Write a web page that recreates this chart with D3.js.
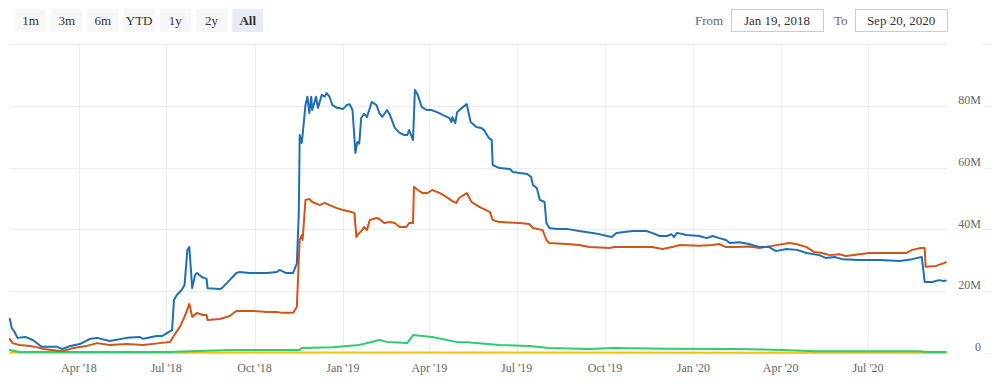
<!DOCTYPE html>
<html>
<head>
<meta charset="utf-8">
<script src="https://cdn.jsdelivr.net/npm/d3@7"></script>
<style>
  html, body { margin: 0; padding: 0; background: #fff; }
  svg { display: block; font-family: "Liberation Serif", "Times New Roman", serif; }
</style>
</head>
<body>
<svg id="chart" width="1000" height="391"></svg>
<script>
// ---------- DATA (values in millions) ----------
const rangeButtons = ["1m", "3m", "6m", "YTD", "1y", "2y", "All"];
const selectedButton = "All";
const fromDate = "Jan 19, 2018";
const toDate = "Sep 20, 2020";

const yTickValues = [0, 20, 40, 60, 80, 100];
const yTickLabels = ["0", "20M", "40M", "60M", "80M", ""];
const xTickDates = ["2018-04-01","2018-07-01","2018-10-01","2019-01-01","2019-04-01","2019-07-01","2019-10-01","2020-01-01","2020-04-01","2020-07-01"];
const xTickLabels = ["Apr '18","Jul '18","Oct '18","Jan '19","Apr '19","Jul '19","Oct '19","Jan '20","Apr '20","Jul '20"];

const blueSeries = [
 ["2018-01-19",11.0],["2018-01-21",8.1],["2018-01-24",6.8],["2018-01-27",4.9],["2018-02-04",5.2],
 ["2018-02-12",4.2],["2018-02-21",2.0],["2018-03-02",2.0],["2018-03-09",2.0],["2018-03-15",1.3],
 ["2018-03-23",2.3],["2018-04-02",2.9],["2018-04-12",4.5],["2018-04-20",4.9],["2018-05-03",3.9],
 ["2018-05-21",4.9],["2018-06-03",5.2],["2018-06-07",4.6],["2018-06-21",5.5],["2018-06-27",5.5],
 ["2018-07-02",6.5],["2018-07-07",7.4],["2018-07-09",17.2],["2018-07-12",18.8],["2018-07-17",20.4],
 ["2018-07-20",22.0],["2018-07-23",33.4],["2018-07-25",34.3],["2018-07-28",21.0],["2018-07-31",25.3],
 ["2018-08-02",25.9],["2018-08-07",24.6],["2018-08-12",24.0],["2018-08-13",21.0],["2018-08-26",20.7],
 ["2018-08-28",21.0],["2018-09-05",23.6],["2018-09-12",25.9],["2018-09-15",26.2],["2018-09-26",25.9],
 ["2018-10-14",25.9],["2018-10-24",26.2],["2018-10-27",26.9],["2018-11-03",25.9],["2018-11-10",25.9],
 ["2018-11-14",29.0],["2018-11-16",45.0],["2018-11-17",70.6],["2018-11-19",68.0],["2018-11-20",70.6],
 ["2018-11-23",80.3],["2018-11-25",83.0],["2018-11-27",77.7],["2018-11-29",83.0],["2018-11-30",78.7],
 ["2018-12-04",83.0],["2018-12-06",79.4],["2018-12-10",83.6],["2018-12-13",83.0],["2018-12-15",84.2],
 ["2018-12-18",83.0],["2018-12-21",80.3],["2018-12-26",79.4],["2019-01-01",79.0],["2019-01-05",80.3],
 ["2019-01-08",80.6],["2019-01-11",78.7],["2019-01-14",64.8],["2019-01-16",68.3],["2019-01-18",67.8],
 ["2019-01-20",76.1],["2019-01-23",77.5],["2019-01-26",76.4],["2019-01-31",81.3],["2019-02-05",80.3],
 ["2019-02-08",77.7],["2019-02-11",76.5],["2019-02-16",78.7],["2019-02-19",77.1],["2019-02-24",72.9],
 ["2019-03-01",71.3],["2019-03-06",70.6],["2019-03-09",70.6],["2019-03-11",72.2],["2019-03-15",69.0],
 ["2019-03-17",85.2],["2019-03-20",83.6],["2019-03-24",79.7],["2019-03-29",78.7],["2019-04-03",78.7],
 ["2019-04-09",78.0],["2019-04-15",77.1],["2019-04-22",76.1],["2019-04-24",74.8],["2019-04-25",76.4],
 ["2019-04-28",74.5],["2019-04-30",78.0],["2019-05-05",79.4],["2019-05-10",80.6],["2019-05-14",74.8],
 ["2019-05-20",73.2],["2019-05-25",72.9],["2019-05-28",72.2],["2019-06-02",69.6],["2019-06-05",69.0],
 ["2019-06-06",60.9],["2019-06-13",59.9],["2019-06-24",59.6],["2019-06-27",58.6],["2019-07-12",58.0],
 ["2019-07-16",57.0],["2019-07-18",54.4],["2019-07-22",53.4],["2019-07-25",49.6],["2019-07-30",48.9],
 ["2019-08-01",42.1],["2019-08-04",40.5],["2019-08-12",40.2],["2019-08-22",40.2],["2019-09-04",39.5],
 ["2019-09-18",38.9],["2019-09-25",38.5],["2019-10-03",37.9],["2019-10-08",37.6],["2019-10-13",38.9],
 ["2019-10-21",39.2],["2019-10-30",39.5],["2019-11-13",39.5],["2019-11-19",38.9],["2019-11-27",37.9],
 ["2019-12-05",37.9],["2019-12-09",38.5],["2019-12-12",37.6],["2019-12-15",38.9],["2019-12-25",38.2],
 ["2020-01-07",37.9],["2020-01-15",37.2],["2020-01-21",37.9],["2020-01-28",37.2],["2020-02-04",36.6],
 ["2020-02-08",35.6],["2020-02-18",35.9],["2020-02-28",35.3],["2020-03-10",34.3],["2020-03-20",34.3],
 ["2020-03-27",33.0],["2020-04-07",33.7],["2020-04-18",33.4],["2020-04-28",32.4],["2020-05-11",31.7],
 ["2020-05-18",30.8],["2020-05-27",31.1],["2020-06-04",30.4],["2020-06-22",30.1],["2020-07-13",30.1],
 ["2020-08-03",29.8],["2020-08-16",30.4],["2020-08-26",31.1],["2020-08-29",23.0],["2020-09-06",23.0],
 ["2020-09-13",23.6],["2020-09-18",23.3],["2020-09-20",23.5]
];

const orangeSeries = [
 ["2018-01-19",4.5],["2018-01-22",3.2],["2018-01-29",2.6],["2018-02-09",2.3],["2018-02-16",1.9],
 ["2018-02-23",1.3],["2018-03-15",0.6],["2018-03-26",1.6],["2018-04-09",2.3],["2018-04-20",3.2],
 ["2018-05-03",2.6],["2018-05-21",2.9],["2018-06-07",2.6],["2018-06-24",3.2],["2018-07-05",3.6],
 ["2018-07-08",5.2],["2018-07-15",8.4],["2018-07-20",11.7],["2018-07-25",15.9],["2018-07-28",11.7],
 ["2018-08-02",13.0],["2018-08-08",12.3],["2018-08-12",12.3],["2018-08-13",10.7],["2018-08-26",11.0],
 ["2018-09-05",12.0],["2018-09-12",13.6],["2018-09-29",13.6],["2018-10-14",13.3],["2018-10-24",13.3],
 ["2018-10-30",13.0],["2018-11-10",13.0],["2018-11-14",14.9],["2018-11-16",30.0],["2018-11-17",36.6],
 ["2018-11-19",38.2],["2018-11-20",36.6],["2018-11-23",49.6],["2018-11-27",49.9],["2018-11-30",48.9],
 ["2018-12-08",47.9],["2018-12-13",48.6],["2018-12-18",47.9],["2018-12-25",47.0],["2019-01-01",46.3],
 ["2019-01-10",45.7],["2019-01-13",45.3],["2019-01-15",37.6],["2019-01-17",38.5],["2019-01-21",39.8],
 ["2019-01-23",40.8],["2019-01-26",39.8],["2019-01-29",43.1],["2019-02-05",43.7],["2019-02-08",43.4],
 ["2019-02-13",42.1],["2019-02-19",42.4],["2019-02-24",42.1],["2019-03-01",40.8],["2019-03-08",40.8],
 ["2019-03-11",42.1],["2019-03-15",42.1],["2019-03-16",53.8],["2019-03-20",52.8],["2019-03-25",51.8],
 ["2019-03-30",51.8],["2019-04-04",52.8],["2019-04-12",51.8],["2019-04-19",50.5],["2019-04-25",49.2],
 ["2019-04-29",48.6],["2019-05-02",50.2],["2019-05-10",51.8],["2019-05-15",48.9],["2019-05-23",47.3],
 ["2019-06-03",45.7],["2019-06-06",43.1],["2019-06-13",42.4],["2019-07-04",42.1],["2019-07-14",41.8],
 ["2019-07-18",40.5],["2019-07-28",39.8],["2019-08-01",36.6],["2019-08-04",35.6],["2019-08-22",35.3],
 ["2019-09-04",35.0],["2019-09-15",34.3],["2019-10-06",34.0],["2019-10-11",34.3],["2019-10-30",34.3],
 ["2019-11-19",34.3],["2019-11-30",33.7],["2019-12-10",34.3],["2019-12-18",35.0],["2020-01-07",34.7],
 ["2020-01-21",35.0],["2020-01-28",35.3],["2020-02-04",34.3],["2020-02-15",34.3],["2020-02-28",34.5],
 ["2020-03-10",34.0],["2020-03-23",34.7],["2020-04-10",35.6],["2020-04-17",35.3],["2020-04-28",34.3],
 ["2020-05-06",32.7],["2020-05-14",32.4],["2020-05-22",31.7],["2020-06-01",32.0],["2020-06-08",31.4],
 ["2020-06-22",32.0],["2020-07-02",32.4],["2020-08-10",32.4],["2020-08-16",33.4],["2020-08-25",34.0],
 ["2020-08-29",34.0],["2020-08-30",27.9],["2020-09-10",28.2],["2020-09-18",29.1],["2020-09-20",29.4]
];

const greenSeries = [
 ["2018-01-19",1.0],["2018-01-29",0.3],["2018-07-02",0.3],["2018-07-25",0.6],["2018-09-08",1.0],
 ["2018-11-17",1.0],["2018-11-19",1.6],["2018-12-21",1.9],["2019-01-18",2.6],["2019-02-08",4.2],
 ["2019-02-16",3.6],["2019-03-09",3.2],["2019-03-15",5.8],["2019-04-04",5.2],["2019-04-29",3.6],
 ["2019-05-10",3.5],["2019-06-13",2.6],["2019-07-14",2.3],["2019-08-04",1.6],["2019-09-15",1.3],
 ["2019-10-09",1.6],["2019-12-04",1.4],["2020-02-11",1.3],["2020-04-03",1.0],["2020-05-08",0.6],
 ["2020-08-25",0.6],["2020-08-30",0.3],["2020-09-20",0.3]
];

const yellowSeries = [
 ["2018-01-19",0.2],["2018-06-01",0.1],["2019-03-01",0.15],["2020-09-20",0.1]
];

const seriesList = [
  { name: "yellow", data: yellowSeries, color: "#f1c40f" },
  { name: "green",  data: greenSeries,  color: "#2ecc71" },
  { name: "orange", data: orangeSeries, color: "#d35418" },
  { name: "blue",   data: blueSeries,   color: "#1f6fb4" }
];

// ---------- DRAW ----------
const parse = d3.utcParse("%Y-%m-%d");
const svg = d3.select("#chart");

const x = d3.scaleUtc()
  .domain([parse("2018-01-19"), parse("2020-09-20")])
  .range([9.8, 945.8]);
const y = d3.scaleLinear().domain([0, 100]).range([353, 44.25]);

const plotLeft = 9.8, plotRight = 992;

// vertical grid
svg.append("g").selectAll("line")
  .data(xTickDates)
  .join("line")
  .attr("x1", d => Math.round(x(parse(d))) + 0.5)
  .attr("x2", d => Math.round(x(parse(d))) + 0.5)
  .attr("y1", y(100))
  .attr("y2", y(0))
  .attr("stroke", "#ececec")
  .attr("stroke-width", 1);

// horizontal grid
svg.append("g").selectAll("line")
  .data(yTickValues)
  .join("line")
  .attr("x1", plotLeft)
  .attr("x2", plotRight)
  .attr("y1", d => Math.round(y(d)) + 0.5)
  .attr("y2", d => Math.round(y(d)) + 0.5)
  .attr("stroke", "#ececec")
  .attr("stroke-width", 1);

// label background strip (labels sit over the grid)
svg.append("rect")
  .attr("x", 947).attr("y", y(100) - 2)
  .attr("width", 36).attr("height", y(0) - y(100) + 6)
  .attr("fill", "#fff");

// y labels
svg.append("g").selectAll("text")
  .data(yTickValues.map((v, i) => ({ v, label: yTickLabels[i] })))
  .join("text")
  .attr("x", 981)
  .attr("y", d => y(d.v) - 2)
  .attr("text-anchor", "end")
  .attr("font-size", 12)
  .attr("fill", "#666")
  .text(d => d.label);

// x labels
svg.append("g").selectAll("text")
  .data(xTickDates.map((d, i) => ({ d: parse(d), label: xTickLabels[i] })))
  .join("text")
  .attr("x", d => x(d.d))
  .attr("y", 372)
  .attr("text-anchor", "middle")
  .attr("font-size", 12)
  .attr("fill", "#666")
  .text(d => d.label);

// series lines
const line = d3.line()
  .x(d => x(parse(d[0])))
  .y(d => y(d[1]));

svg.append("g").selectAll("path")
  .data(seriesList)
  .join("path")
  .attr("d", s => line(s.data))
  .attr("fill", "none")
  .attr("stroke", s => s.color)
  .attr("stroke-width", 2)
  .attr("stroke-linejoin", "round")
  .attr("stroke-linecap", "round");

// range selector buttons
const btn = svg.append("g").selectAll("g")
  .data(rangeButtons)
  .join("g")
  .attr("transform", (d, i) => `translate(${15 + i * 36.2},9)`);
btn.append("rect")
  .attr("width", 31).attr("height", 23)
  .attr("fill", d => d === selectedButton ? "#e6ebf5" : "#f7f7f7");
btn.append("text")
  .attr("x", 15.5).attr("y", 16)
  .attr("text-anchor", "middle")
  .attr("font-size", 13)
  .attr("font-weight", d => d === selectedButton ? "bold" : "normal")
  .attr("fill", "#333")
  .text(d => d);

// date inputs
const inputs = [
  { label: "From", value: fromDate, lx: 695, bx: 731 },
  { label: "To", value: toDate, lx: 834, bx: 855 }
];
const ig = svg.append("g").selectAll("g").data(inputs).join("g");
ig.append("text")
  .attr("x", d => d.lx).attr("y", 25)
  .attr("font-size", 13).attr("fill", "#666")
  .text(d => d.label);
ig.append("rect")
  .attr("x", d => d.bx + 0.5).attr("y", 9.5)
  .attr("width", 92).attr("height", 22)
  .attr("fill", "#fff").attr("stroke", "#cccccc");
ig.append("text")
  .attr("x", d => d.bx + 46).attr("y", 25)
  .attr("text-anchor", "middle")
  .attr("font-size", 13).attr("fill", "#333")
  .text(d => d.value);
</script>
</body>
</html>
